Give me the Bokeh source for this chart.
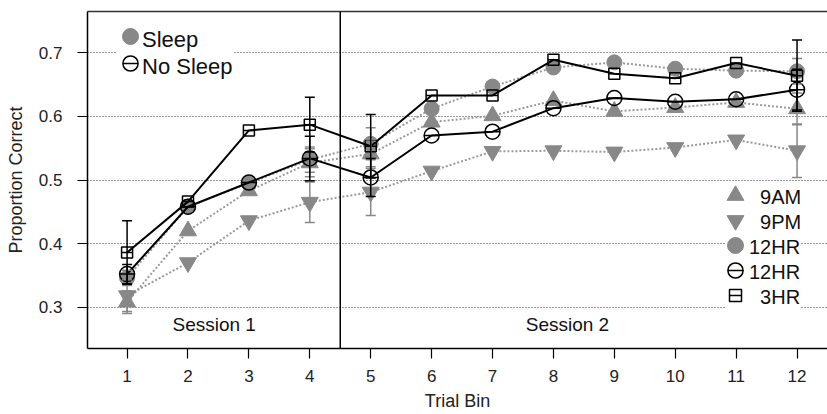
from bokeh.plotting import figure
from bokeh.models import (ColumnDataSource, Range1d, FixedTicker, LinearAxis, Span,
                          Legend, LegendItem, Label, Whisker, TeeHead, NumeralTickFormatter)
from bokeh.embed import file_html
from bokeh.resources import INLINE

# ---------------- data ----------------
bins = [1, 2, 3, 4, 5, 6, 7, 8, 9, 10, 11, 12]
y_ticks = [0.3, 0.4, 0.5, 0.6, 0.7]
session_names = ["Session 1", "Session 2"]
session_centers = [2.43, 8.23]

am9 = [0.308, 0.420, 0.483, 0.527, 0.541, 0.591, 0.601, 0.625, 0.608, 0.614, 0.622, 0.612]
pm9 = [0.318, 0.370, 0.436, 0.465, 0.481, 0.514, 0.545, 0.546, 0.544, 0.551, 0.563, 0.546]
sleep12 = [0.346, 0.458, 0.495, 0.532, 0.557, 0.612, 0.647, 0.677, 0.685, 0.675, 0.672, 0.671]
nosleep12 = [0.352, 0.458, 0.496, 0.534, 0.504, 0.570, 0.576, 0.613, 0.629, 0.623, 0.627, 0.642]
hr3 = [0.386, 0.466, 0.578, 0.587, 0.553, 0.633, 0.633, 0.689, 0.667, 0.660, 0.684, 0.664]

err_am9 = [0.018, None, None, 0.022, 0.020, None, None, None, None, None, None, 0.025]
err_pm9 = [0.025, None, None, 0.032, 0.037, None, None, None, None, None, None, 0.042]
err_sleep12 = [0.012, None, None, 0.020, 0.025, None, None, None, None, None, None, 0.020]
err_nosleep12 = [0.015, None, None, 0.035, 0.030, None, None, None, None, None, None, 0.032]
err_hr3 = [0.050, None, None, 0.043, 0.050, None, None, None, None, None, None, 0.056]

legend_top_labels = ["Sleep", "No Sleep"]
legend_bottom_labels = ["\u20079AM", "\u20079PM", "12HR", "12HR", "\u20073HR"]

# ---------------- style ----------------
FONT = "Liberation Sans"
GRAY = "#888888"
LINE_GRAY = "#9a9a9a"
BLACK = "#000000"

p = figure(width=827, height=414, x_range=Range1d(0.35, 12.5), y_range=Range1d(0.235, 0.765),
           output_backend="svg", toolbar_location=None,
           min_border_left=87, min_border_right=0, min_border_top=11, min_border_bottom=66)
p.extra_y_ranges = {"legend_only": Range1d(10, 11)}
p.outline_line_color = None
p.background_fill_color = "white"
p.border_fill_color = "white"

xa = p.xaxis[0]
xa.ticker = FixedTicker(ticks=bins)
xa.axis_label = "Trial Bin"
ya = p.yaxis[0]
ya.ticker = FixedTicker(ticks=y_ticks)
ya.formatter = NumeralTickFormatter(format="0.0")
ya.axis_label = "Proportion Correct"
for ax in (xa, ya):
    ax.axis_line_color = BLACK
    ax.axis_line_width = 1.5
    ax.major_tick_out = 10
    ax.major_tick_in = 0
    ax.minor_tick_out = 0
    ax.minor_tick_in = 0
    ax.major_tick_line_color = BLACK
    ax.major_tick_line_width = 1.2
    ax.major_label_text_font = FONT
    ax.major_label_text_font_size = "17px"
    ax.major_label_text_color = "#222222"
    ax.axis_label_text_font = FONT
    ax.axis_label_text_font_size = "18px"
    ax.axis_label_text_font_style = "normal"
    ax.axis_label_text_color = "#222222"
xa.major_label_standoff = 11
xa.axis_label_standoff = 6
ya.major_label_standoff = 15
ya.axis_label_standoff = 10

top_axis = LinearAxis(ticker=FixedTicker(ticks=[]), axis_line_color="#333333", axis_line_width=1.5,
                      major_tick_out=0, major_tick_in=0, minor_tick_out=0, minor_tick_in=0,
                      major_label_text_font_size="0px")
p.add_layout(top_axis, "above")

p.xgrid.visible = False
p.ygrid.ticker = FixedTicker(ticks=y_ticks)
p.ygrid.grid_line_color = "#333333"
p.ygrid.grid_line_dash = "1 2"
p.ygrid.grid_line_width = 1

src = ColumnDataSource(dict(bin=bins, am9=am9, pm9=pm9, sleep12=sleep12,
                            nosleep12=nosleep12, hr3=hr3))

# gray (sleep) series
for col in ("am9", "pm9", "sleep12"):
    p.line("bin", col, source=src, line_color=LINE_GRAY, line_width=2, line_dash="2 2")


def add_whisker(vals, errs, color):
    xs, lo, hi = [], [], []
    for b, v, e in zip(bins, vals, errs):
        if e is not None:
            xs.append(b)
            lo.append(v - e)
            hi.append(v + e)
    s = ColumnDataSource(dict(x=xs, lower=lo, upper=hi))
    w = Whisker(source=s, base="x", lower="lower", upper="upper", line_color=color, line_width=1.5,
                level="glyph",
                upper_head=TeeHead(size=10, line_color=color, line_width=1.5),
                lower_head=TeeHead(size=10, line_color=color, line_width=1.5))
    p.add_layout(w)


add_whisker(am9, err_am9, GRAY)
add_whisker(pm9, err_pm9, GRAY)
add_whisker(sleep12, err_sleep12, GRAY)

p.scatter("bin", "am9", source=src, marker="triangle", size=17, fill_color=GRAY, line_color=GRAY)
p.scatter("bin", "pm9", source=src, marker="inverted_triangle", size=17, fill_color=GRAY, line_color=GRAY)
p.scatter("bin", "sleep12", source=src, marker="circle", size=15, fill_color=GRAY, line_color=GRAY)

add_whisker(nosleep12, err_nosleep12, BLACK)
add_whisker(hr3, err_hr3, BLACK)

# black (no sleep) series
for col in ("nosleep12", "hr3"):
    p.line("bin", col, source=src, line_color=BLACK, line_width=2)
p.scatter("bin", "nosleep12", source=src, marker="circle", size=15, fill_color=None,
          line_color=BLACK, line_width=1.5)
p.scatter("bin", "nosleep12", source=src, marker="dash", size=15, line_color=BLACK, line_width=1.5)
p.scatter("bin", "hr3", source=src, marker="square", size=11, fill_color=None,
          line_color=BLACK, line_width=1.5)
p.scatter("bin", "hr3", source=src, marker="dash", size=11, line_color=BLACK, line_width=1.5)

# session divider and labels
p.add_layout(Span(location=4.5, dimension="height", line_color=BLACK, line_width=1.5))
for name, cx in zip(session_names, session_centers):
    p.add_layout(Label(x=cx, y=0.272, text=name, text_align="center", text_baseline="middle",
                       text_font=FONT, text_font_size="19px", text_color="#111111"))

# legend glyphs (kept off-frame, used only by the legends)
kw = dict(source=src, y_range_name="legend_only")
lg_blank = p.scatter("bin", "hr3", marker="circle", size=1, fill_alpha=0, line_alpha=0, **kw)
lg_up = p.scatter("bin", "am9", marker="triangle", size=17, fill_color=GRAY, line_color=GRAY, **kw)
lg_down = p.scatter("bin", "pm9", marker="inverted_triangle", size=17, fill_color=GRAY, line_color=GRAY, **kw)
lg_sleep = p.scatter("bin", "sleep12", marker="circle", size=16, fill_color=GRAY, line_color=GRAY, **kw)
lg_ns_c = p.scatter("bin", "nosleep12", marker="circle", size=15, fill_color=None, line_color=BLACK,
                    line_width=1.5, **kw)
lg_ns_d = p.scatter("bin", "nosleep12", marker="dash", size=15, line_color=BLACK, line_width=1.5, **kw)
lg_sq = p.scatter("bin", "hr3", marker="square", size=12, fill_color=None, line_color=BLACK,
                  line_width=1.5, **kw)
lg_sq_d = p.scatter("bin", "hr3", marker="dash", size=12, line_color=BLACK, line_width=1.5, **kw)

FL, FB = 84, 348   # frame reference for legend placement (screen px)

text_common = dict(orientation="vertical", label_text_font=FONT, label_text_color="#111111",
                   background_fill_color="white", background_fill_alpha=1.0, border_line_color=None,
                   margin=0, spacing=0)

# text blocks of the legends (white boxes)
leg_top = Legend(items=[LegendItem(label=lab, renderers=[lg_blank]) for lab in legend_top_labels],
                 location=(114 - FL, 268), label_text_font_size="22px", glyph_width=20, glyph_height=27,
                 padding=3, label_standoff=5, **text_common)
leg_bot = Legend(items=[LegendItem(label=lab, renderers=[lg_blank]) for lab in legend_bottom_labels],
                 location=(723 - FL, 38), label_text_font_size="20px", glyph_width=18, glyph_height=25,
                 padding=2, label_standoff=5, **text_common)
p.add_layout(leg_top)
p.add_layout(leg_bot)


def glyph_legend(renderers, cx, cy, box):
    leg = Legend(items=[LegendItem(label=" ", renderers=renderers)],
                 location=(cx - FL - box / 2, FB - cy - box / 2),
                 glyph_width=box, glyph_height=box, padding=0, margin=0, spacing=0,
                 label_standoff=0, label_width=0, label_height=0, label_text_font_size="1px",
                 background_fill_alpha=0, border_line_color=None)
    p.add_layout(leg)


# marker symbols of the legends (symbol size = 0.4 * box)
glyph_legend([lg_sleep], 127, 36, 40)
glyph_legend([lg_ns_c, lg_ns_d], 127, 63, 38)
glyph_legend([lg_up], 732, 195, 42)
glyph_legend([lg_down], 732, 220, 42)
glyph_legend([lg_sleep], 732, 245, 40)
glyph_legend([lg_ns_c, lg_ns_d], 732, 270, 38)
glyph_legend([lg_sq, lg_sq_d], 732, 295, 30)

open("out.html", "w").write(file_html(p, INLINE))
